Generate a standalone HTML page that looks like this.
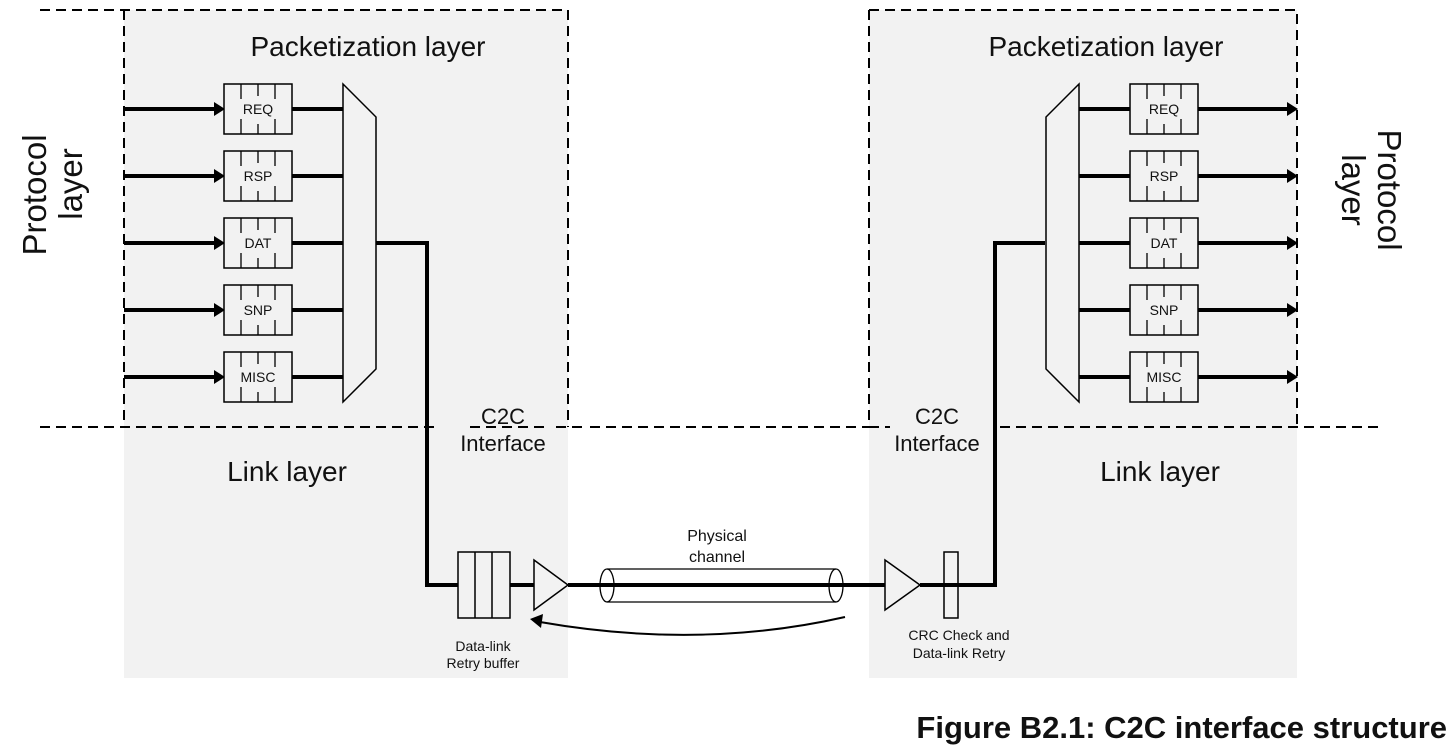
<!DOCTYPE html>
<html><head><style>
body{margin:0;background:#fff;}
svg text{font-family:"Liberation Sans",Arial,sans-serif;fill:#111;}
</style></head><body>
<svg width="1456" height="746" viewBox="0 0 1456 746" xmlns="http://www.w3.org/2000/svg">
<defs>
<g id="buf">
<rect x="0" y="0" width="68" height="50" fill="#f2f2f2" stroke="#000" stroke-width="1.5"/>
<path d="M17,0v15M34,0v12M51,0v15M17,50v-15M34,50v-10M51,50v-15" stroke="#000" stroke-width="1.3"/>
</g>
<g id="inarr"><path d="M0,0H92" stroke="#000" stroke-width="4"/><path d="M90,-7L101,0L90,7Z" fill="#000"/></g>
</defs>
<rect x="124" y="10" width="444" height="668" fill="#f2f2f2"/>
<rect x="869" y="10" width="428" height="668" fill="#f2f2f2"/>
<g stroke="#000" stroke-width="2" stroke-dasharray="10,6" fill="none">
<path d="M40,10H568V427"/><path d="M124,10V427"/>
<path d="M40,427H440M470,427H545M556,427H585M590,427H869"/>
<path d="M869,10H1297V427M869,10V427"/>
<path d="M869,427H890M1000,427H1380"/>
</g>
<text x="368" y="56" font-size="28" text-anchor="middle">Packetization layer</text>
<text x="1106" y="56" font-size="28" text-anchor="middle">Packetization layer</text>
<text transform="translate(46,195) rotate(-90)" font-size="33" text-anchor="middle">Protocol</text>
<text transform="translate(82,184) rotate(-90)" font-size="33" text-anchor="middle">layer</text>
<text transform="translate(1378,190) rotate(90)" font-size="33" text-anchor="middle">Protocol</text>
<text transform="translate(1342,190) rotate(90)" font-size="33" text-anchor="middle">layer</text>
<text x="287" y="481" font-size="28" text-anchor="middle">Link layer</text>
<text x="1160" y="481" font-size="28" text-anchor="middle">Link layer</text>
<text x="503" y="424" font-size="22" text-anchor="middle">C2C</text>
<text x="503" y="451" font-size="22" text-anchor="middle">Interface</text>
<text x="937" y="424" font-size="22" text-anchor="middle">C2C</text>
<text x="937" y="451" font-size="22" text-anchor="middle">Interface</text>
<use href="#inarr" x="124" y="109"/><use href="#inarr" x="124" y="176"/><use href="#inarr" x="124" y="243"/><use href="#inarr" x="124" y="310"/><use href="#inarr" x="124" y="377"/>
<use href="#inarr" x="1197" y="109"/><use href="#inarr" x="1197" y="176"/><use href="#inarr" x="1197" y="243"/><use href="#inarr" x="1197" y="310"/><use href="#inarr" x="1197" y="377"/>
<g stroke="#000" stroke-width="4" fill="none">
<path d="M292,109H343M292,176H343M292,243H343M292,310H343M292,377H343"/>
<path d="M376,243H427V585H458M510,585H534M568,585H885M920,585H944M958,585H995V243H1045"/>
<path d="M1079,109H1130M1079,176H1130M1079,243H1130M1079,310H1130M1079,377H1130"/>
</g>
<g font-size="14" text-anchor="middle">
<use href="#buf" x="224" y="84"/><text x="258" y="114">REQ</text>
<use href="#buf" x="224" y="151"/><text x="258" y="181">RSP</text>
<use href="#buf" x="224" y="218"/><text x="258" y="248">DAT</text>
<use href="#buf" x="224" y="285"/><text x="258" y="315">SNP</text>
<use href="#buf" x="224" y="352"/><text x="258" y="382">MISC</text>
<use href="#buf" x="1130" y="84"/><text x="1164" y="114">REQ</text>
<use href="#buf" x="1130" y="151"/><text x="1164" y="181">RSP</text>
<use href="#buf" x="1130" y="218"/><text x="1164" y="248">DAT</text>
<use href="#buf" x="1130" y="285"/><text x="1164" y="315">SNP</text>
<use href="#buf" x="1130" y="352"/><text x="1164" y="382">MISC</text>
</g>
<path d="M343,84L376,117V369L343,402Z" fill="#f2f2f2" stroke="#000" stroke-width="1.5"/>
<path d="M1079,84L1046,117V369L1079,402Z" fill="#f2f2f2" stroke="#000" stroke-width="1.5"/>
<rect x="458" y="552" width="52" height="66" fill="#f2f2f2" stroke="#000" stroke-width="1.5"/>
<path d="M475,552v66M492,552v66" stroke="#000" stroke-width="1.5"/>
<path d="M534,560L568,585L534,610Z" fill="#f2f2f2" stroke="#000" stroke-width="1.5"/>
<path d="M885,560L920,585L885,610Z" fill="#f2f2f2" stroke="#000" stroke-width="1.5"/>
<rect x="944" y="552" width="14" height="66" fill="#f2f2f2" stroke="#000" stroke-width="1.5"/>
<path d="M944,585H958" stroke="#000" stroke-width="4"/>
<g stroke="#000" stroke-width="1.3" fill="none">
<path d="M607,569H836M607,602H836"/>
<ellipse cx="607" cy="585.5" rx="7" ry="16.5"/>
<ellipse cx="836" cy="585.5" rx="7" ry="16.5"/>
</g>
<path d="M585,585H843" stroke="#000" stroke-width="4"/>
<path d="M845,617Q700,650 540,622" stroke="#000" stroke-width="2" fill="none"/>
<path d="M530,619L543,614L541,628Z" fill="#000"/>
<text x="717" y="541" font-size="16" text-anchor="middle">Physical</text>
<text x="717" y="562" font-size="16" text-anchor="middle">channel</text>
<text x="483" y="651" font-size="14" text-anchor="middle">Data-link</text>
<text x="483" y="668" font-size="14" text-anchor="middle">Retry buffer</text>
<text x="959" y="640" font-size="14" text-anchor="middle">CRC Check and</text>
<text x="959" y="658" font-size="14" text-anchor="middle">Data-link Retry</text>
<text x="1447" y="738" font-size="31" font-weight="bold" text-anchor="end">Figure B2.1: C2C interface structure</text>
</svg>
</body></html>
